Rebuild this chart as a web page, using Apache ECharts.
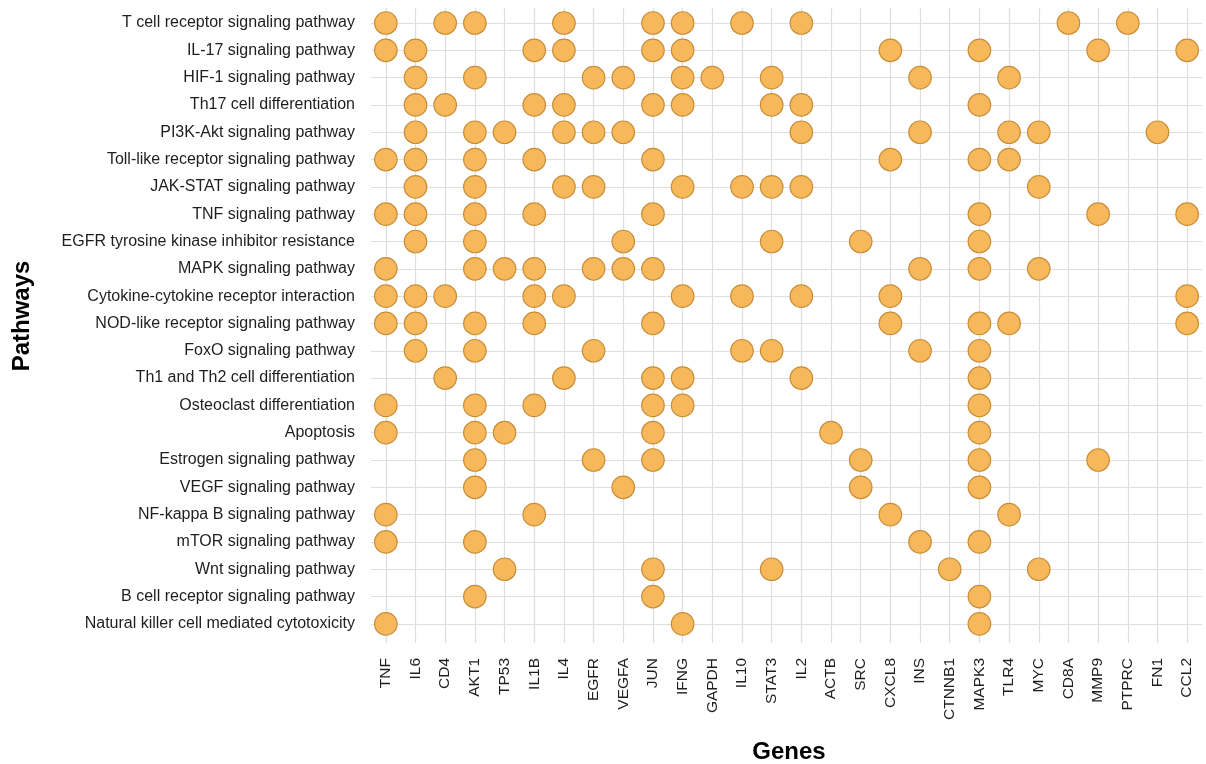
<!DOCTYPE html>
<html>
<head>
<meta charset="utf-8">
<script src="https://cdn.jsdelivr.net/npm/echarts@6/dist/echarts.min.js"></script>
<style>
  html, body { margin: 0; padding: 0; background: #ffffff; }
  #chart { width: 1206px; height: 764px; }
</style>
</head>
<body>
<div id="chart"></div>
<script>
// Genes on the x axis, in display order
const genes = ['TNF', 'IL6', 'CD4', 'AKT1', 'TP53', 'IL1B', 'IL4', 'EGFR', 'VEGFA', 'JUN',
  'IFNG', 'GAPDH', 'IL10', 'STAT3', 'IL2', 'ACTB', 'SRC', 'CXCL8', 'INS', 'CTNNB1',
  'MAPK3', 'TLR4', 'MYC', 'CD8A', 'MMP9', 'PTPRC', 'FN1', 'CCL2'];

// Pathways on the y axis, top to bottom
const pathways = [
  'T cell receptor signaling pathway',
  'IL-17 signaling pathway',
  'HIF-1 signaling pathway',
  'Th17 cell differentiation',
  'PI3K-Akt signaling pathway',
  'Toll-like receptor signaling pathway',
  'JAK-STAT signaling pathway',
  'TNF signaling pathway',
  'EGFR tyrosine kinase inhibitor resistance',
  'MAPK signaling pathway',
  'Cytokine-cytokine receptor interaction',
  'NOD-like receptor signaling pathway',
  'FoxO signaling pathway',
  'Th1 and Th2 cell differentiation',
  'Osteoclast differentiation',
  'Apoptosis',
  'Estrogen signaling pathway',
  'VEGF signaling pathway',
  'NF-kappa B signaling pathway',
  'mTOR signaling pathway',
  'Wnt signaling pathway',
  'B cell receptor signaling pathway',
  'Natural killer cell mediated cytotoxicity'
];

// Genes found in each pathway (same order as `pathways`)
const pathwayGenes = [
  ['TNF', 'CD4', 'AKT1', 'IL4', 'JUN', 'IFNG', 'IL10', 'IL2', 'CD8A', 'PTPRC'],
  ['TNF', 'IL6', 'IL1B', 'IL4', 'JUN', 'IFNG', 'CXCL8', 'MAPK3', 'MMP9', 'CCL2'],
  ['IL6', 'AKT1', 'EGFR', 'VEGFA', 'IFNG', 'GAPDH', 'STAT3', 'INS', 'TLR4'],
  ['IL6', 'CD4', 'IL1B', 'IL4', 'JUN', 'IFNG', 'STAT3', 'IL2', 'MAPK3'],
  ['IL6', 'AKT1', 'TP53', 'IL4', 'EGFR', 'VEGFA', 'IL2', 'INS', 'TLR4', 'MYC', 'FN1'],
  ['TNF', 'IL6', 'AKT1', 'IL1B', 'JUN', 'CXCL8', 'MAPK3', 'TLR4'],
  ['IL6', 'AKT1', 'IL4', 'EGFR', 'IFNG', 'IL10', 'STAT3', 'IL2', 'MYC'],
  ['TNF', 'IL6', 'AKT1', 'IL1B', 'JUN', 'MAPK3', 'MMP9', 'CCL2'],
  ['IL6', 'AKT1', 'VEGFA', 'STAT3', 'SRC', 'MAPK3'],
  ['TNF', 'AKT1', 'TP53', 'IL1B', 'EGFR', 'VEGFA', 'JUN', 'INS', 'MAPK3', 'MYC'],
  ['TNF', 'IL6', 'CD4', 'IL1B', 'IL4', 'IFNG', 'IL10', 'IL2', 'CXCL8', 'CCL2'],
  ['TNF', 'IL6', 'AKT1', 'IL1B', 'JUN', 'CXCL8', 'MAPK3', 'TLR4', 'CCL2'],
  ['IL6', 'AKT1', 'EGFR', 'IL10', 'STAT3', 'INS', 'MAPK3'],
  ['CD4', 'IL4', 'JUN', 'IFNG', 'IL2', 'MAPK3'],
  ['TNF', 'AKT1', 'IL1B', 'JUN', 'IFNG', 'MAPK3'],
  ['TNF', 'AKT1', 'TP53', 'JUN', 'ACTB', 'MAPK3'],
  ['AKT1', 'EGFR', 'JUN', 'SRC', 'MAPK3', 'MMP9'],
  ['AKT1', 'VEGFA', 'SRC', 'MAPK3'],
  ['TNF', 'IL1B', 'CXCL8', 'TLR4'],
  ['TNF', 'AKT1', 'INS', 'MAPK3'],
  ['TP53', 'JUN', 'STAT3', 'CTNNB1', 'MYC'],
  ['AKT1', 'JUN', 'MAPK3'],
  ['TNF', 'IFNG', 'MAPK3']
];

// One point per (gene, pathway) membership
const points = [];
pathwayGenes.forEach((list, p) => {
  list.forEach(g => points.push([genes.indexOf(g), p]));
});

const geneIdx = genes.map((_, i) => i);
const pathIdx = pathways.map((_, i) => i);

const gridColor = '#dedede';
const textColor = '#1e1e1e';
const font = '"Liberation Sans", Arial, sans-serif';

const chart = echarts.init(document.getElementById('chart'), null, { renderer: 'canvas' });
chart.setOption({
  backgroundColor: '#ffffff',
  animation: false,
  grid: { left: 371, right: 4, top: 8, bottom: 121, containLabel: false },
  xAxis: {
    type: 'value',
    min: -0.5,
    max: 27.5,
    axisLine: { show: false },
    axisTick: { show: false, customValues: geneIdx },
    axisLabel: {
      customValues: geneIdx,
      formatter: v => genes[v] || '',
      rotate: 90,
      margin: 15,
      fontFamily: font,
      fontSize: 15.5,
      color: textColor
    },
    splitLine: { show: true, lineStyle: { color: gridColor, width: 1.2 } }
  },
  yAxis: {
    type: 'value',
    inverse: true,
    min: -0.55,
    max: 22.7,
    axisLine: { show: false },
    axisTick: { show: false, customValues: pathIdx },
    axisLabel: {
      customValues: pathIdx,
      formatter: v => pathways[v] || '',
      margin: 16,
      fontFamily: font,
      fontSize: 16,
      color: textColor
    },
    splitLine: { show: true, lineStyle: { color: gridColor, width: 1.2 } }
  },
  // Axis titles
  graphic: [
    {
      type: 'text',
      x: 22, y: 316,
      rotation: Math.PI / 2,
      style: {
        text: 'Pathways', fontFamily: font, fontSize: 24, fontWeight: 'bold',
        fill: '#000', align: 'center', verticalAlign: 'middle'
      }
    },
    {
      type: 'text',
      x: 789, y: 752,
      style: {
        text: 'Genes', fontFamily: font, fontSize: 24, fontWeight: 'bold',
        fill: '#000', align: 'center', verticalAlign: 'middle'
      }
    }
  ],
  series: [{
    type: 'scatter',
    data: points,
    symbol: 'circle',
    symbolSize: 22.5,
    itemStyle: { color: '#F6B85B', borderColor: '#C88C36', borderWidth: 1.2, opacity: 1 }
  }]
});
</script>
</body>
</html>
